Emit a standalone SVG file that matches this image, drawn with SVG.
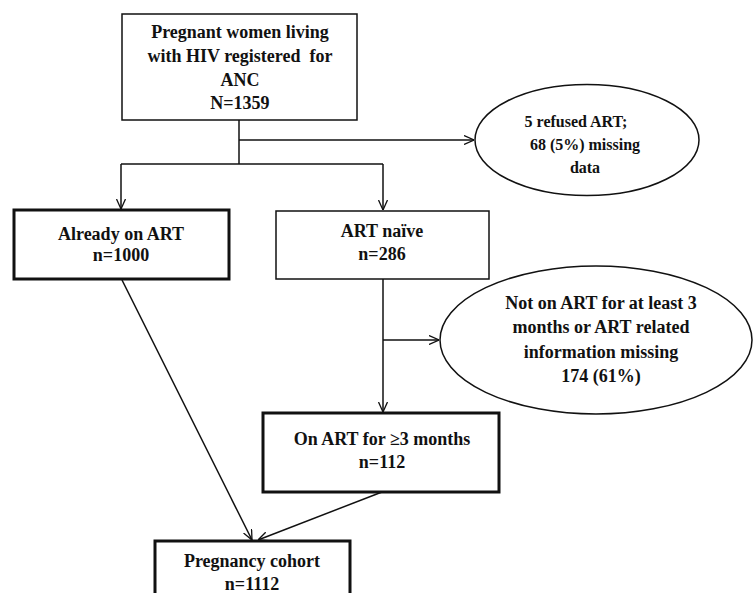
<svg xmlns="http://www.w3.org/2000/svg" width="753" height="593" viewBox="0 0 753 593">
<style>
text{font-family:"Liberation Serif","Times New Roman",serif;font-weight:bold;font-size:18px;fill:#111;text-anchor:middle}
.thin{fill:#fff;stroke:#111;stroke-width:1.5}
.thick{fill:#fff;stroke:#111;stroke-width:3}
.conn{fill:none;stroke:#111;stroke-width:1.5}
.sm{font-size:16px}
</style>
<defs>
<marker id="arr" viewBox="0 0 10 10" refX="10" refY="5" markerWidth="10" markerHeight="10" markerUnits="userSpaceOnUse" orient="auto">
<path d="M0,0.5 L10,5 L0,9.5" fill="none" stroke="#111" stroke-width="1.3"/>
</marker>
</defs>
<rect width="753" height="593" fill="#fff"/>
<g id="connectors">
<path class="conn" d="M239,120 V164"/>
<path class="conn" d="M239,140 H474" marker-end="url(#arr)"/>
<path class="conn" d="M121,164 H383"/>
<path class="conn" d="M121,164 V209" marker-end="url(#arr)"/>
<path class="conn" d="M383,164 V210" marker-end="url(#arr)"/>
<path class="conn" d="M383,279 V412" marker-end="url(#arr)"/>
<path class="conn" d="M383,340 H439" marker-end="url(#arr)"/>
<path class="conn" d="M122,280 L252,540" marker-end="url(#arr)"/>
<path class="conn" d="M382,492 L258,540" marker-end="url(#arr)"/>
</g>
<g id="n-registered">
<rect class="thin" x="122" y="14" width="235" height="106"/>
<text x="240" y="38">Pregnant women living</text>
<text x="240" y="62" xml:space="preserve">with HIV registered  for</text>
<text x="240" y="86">ANC</text>
<text x="240" y="109">N=1359</text>
</g>
<g id="n-excluded1">
<ellipse class="thin" cx="587" cy="140" rx="112" ry="55.5"/>
<text class="sm" x="576" y="127">5 refused ART;</text>
<text class="sm" x="585" y="150">68 (5%) missing</text>
<text class="sm" x="585" y="173">data</text>
</g>
<g id="n-already">
<rect class="thick" x="14" y="210" width="215" height="69"/>
<text x="121" y="240">Already on ART</text>
<text x="121" y="261">n=1000</text>
</g>
<g id="n-naive">
<rect class="thin" x="276" y="211" width="213" height="68"/>
<text x="382" y="237">ART naïve</text>
<text x="382" y="260">n=286</text>
</g>
<g id="n-excluded2">
<ellipse class="thin" cx="596" cy="340" rx="156" ry="74"/>
<text x="601" y="309">Not on ART for at least 3</text>
<text x="601" y="333">months or ART related</text>
<text x="601" y="358">information missing</text>
<text x="601" y="382">174 (61%)</text>
</g>
<g id="n-onart">
<rect class="thick" x="263" y="413" width="236" height="79"/>
<text x="382" y="445">On ART for ≥3 months</text>
<text x="382" y="468">n=112</text>
</g>
<g id="n-cohort">
<rect class="thick" x="155" y="541" width="195" height="60"/>
<text x="252" y="567">Pregnancy cohort</text>
<text x="252" y="590">n=1112</text>
</g>
</svg>
